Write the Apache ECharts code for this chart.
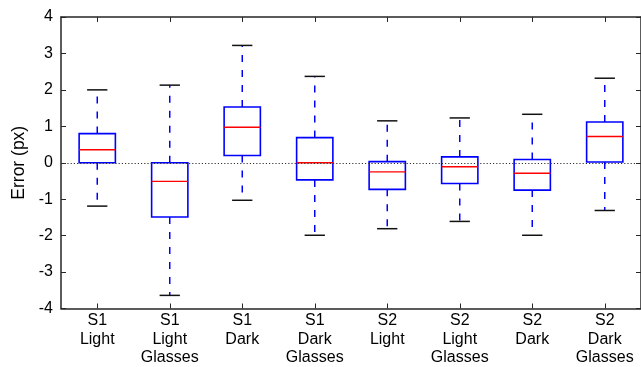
<!DOCTYPE html>
<html>
<head>
<meta charset="utf-8">
<script src="https://cdn.jsdelivr.net/npm/echarts@6/dist/echarts.min.js"></script>
<style>
html,body{margin:0;padding:0;background:#fff;}
#chart{width:641px;height:367px;}
</style>
</head>
<body>
<div id="chart"></div>
<script>
const categories = ['S1\nLight', 'S1\nLight\nGlasses', 'S1\nDark', 'S1\nDark\nGlasses', 'S2\nLight', 'S2\nLight\nGlasses', 'S2\nDark', 'S2\nDark\nGlasses'];
const lowerWhisker = [-1.19, -3.64, -1.03, -1.99, -1.81, -1.61, -1.99, -1.31];
const q1 = [0.0, -1.49, 0.20, -0.47, -0.73, -0.57, -0.75, 0.02];
const median = [0.355, -0.51, 0.975, 0.0, -0.25, -0.11, -0.29, 0.72];
const q3 = [0.80, 0.0, 1.53, 0.69, 0.03, 0.16, 0.09, 1.12];
const upperWhisker = [2.0, 2.13, 3.22, 2.37, 1.15, 1.23, 1.33, 2.32];
const yTicks = [-4, -3, -2, -1, 0, 1, 2, 3, 4];

const data = categories.map((c, i) => [i, lowerWhisker[i], q1[i], median[i], q3[i], upperWhisker[i]]);

const FONT = 'Liberation Sans, Arial, sans-serif';
const AX = '#262626';

function renderItem(params, api) {
  const i = api.value(0);
  const pLow = api.coord([i, api.value(1)]);
  const pQ1 = api.coord([i, api.value(2)]);
  const pMed = api.coord([i, api.value(3)]);
  const pQ3 = api.coord([i, api.value(4)]);
  const pHigh = api.coord([i, api.value(5)]);
  const band = api.size([1, 0])[0];
  const cx = pMed[0];
  const bw = band * 0.5;
  const cw = band * 0.28;
  const blue = '#0000ff';
  const dashStyle = { stroke: blue, lineWidth: 1.5, lineDash: [7, 8], fill: null };
  return {
    type: 'group',
    children: [
      { type: 'line', shape: { x1: cx, y1: pQ3[1], x2: cx, y2: pHigh[1] }, style: dashStyle },
      { type: 'line', shape: { x1: cx, y1: pQ1[1], x2: cx, y2: pLow[1] }, style: dashStyle },
      { type: 'line', shape: { x1: cx - cw / 2, y1: pHigh[1], x2: cx + cw / 2, y2: pHigh[1] }, style: { stroke: '#111', lineWidth: 1.5 } },
      { type: 'line', shape: { x1: cx - cw / 2, y1: pLow[1], x2: cx + cw / 2, y2: pLow[1] }, style: { stroke: '#111', lineWidth: 1.5 } },
      { type: 'rect', shape: { x: cx - bw / 2, y: pQ3[1], width: bw, height: pQ1[1] - pQ3[1] }, style: { stroke: blue, lineWidth: 1.6, fill: null } },
      { type: 'line', shape: { x1: cx - bw / 2, y1: pMed[1], x2: cx + bw / 2, y2: pMed[1] }, style: { stroke: '#ff0000', lineWidth: 1.4 } }
    ]
  };
}

const chart = echarts.init(document.getElementById('chart'), null, { renderer: 'canvas' });
const yCommon = {
  type: 'value', min: yTicks[0], max: yTicks[yTicks.length - 1], interval: 1,
  splitLine: { show: false },
  axisLine: { show: true, lineStyle: { color: AX, width: 1.5 } },
  axisTick: { show: true, inside: true, length: 5, lineStyle: { color: AX, width: 1 } }
};
const xCommon = {
  type: 'category', data: categories, boundaryGap: true,
  splitLine: { show: false },
  axisLine: { show: true, onZero: false, lineStyle: { color: AX, width: 1.5 } },
  axisTick: { show: true, inside: true, length: 5, alignWithLabel: true, lineStyle: { color: AX, width: 1 } }
};
chart.setOption({
  animation: false,
  backgroundColor: '#fff',
  grid: { left: 61, top: 17, width: 585, height: 293, containLabel: false },
  xAxis: [
    Object.assign({}, xCommon, {
      position: 'bottom',
      axisLabel: { interval: 0, color: '#000', fontSize: 16, lineHeight: 18.5, fontFamily: FONT, margin: 3 }
    }),
    Object.assign({}, xCommon, { position: 'top', axisLabel: { show: false } })
  ],
  yAxis: [
    Object.assign({}, yCommon, {
      position: 'left',
      name: 'Error (px)', nameLocation: 'middle', nameGap: 33,
      nameTextStyle: { color: '#000', fontSize: 17.5, fontFamily: FONT },
      axisLabel: { color: '#000', fontSize: 16, fontFamily: FONT, margin: 8 }
    }),
    Object.assign({}, yCommon, { position: 'right', axisLabel: { show: false } })
  ],
  series: [
    {
      type: 'custom',
      renderItem: renderItem,
      data: data,
      encode: { x: 0, y: [1, 2, 3, 4, 5] },
      z: 3,
      markLine: {
        silent: true, symbol: 'none', label: { show: false },
        lineStyle: { color: '#333', width: 1.2, type: [1.2, 2] },
        data: [{ yAxis: 0 }]
      }
    }
  ]
});
</script>
</body>
</html>
